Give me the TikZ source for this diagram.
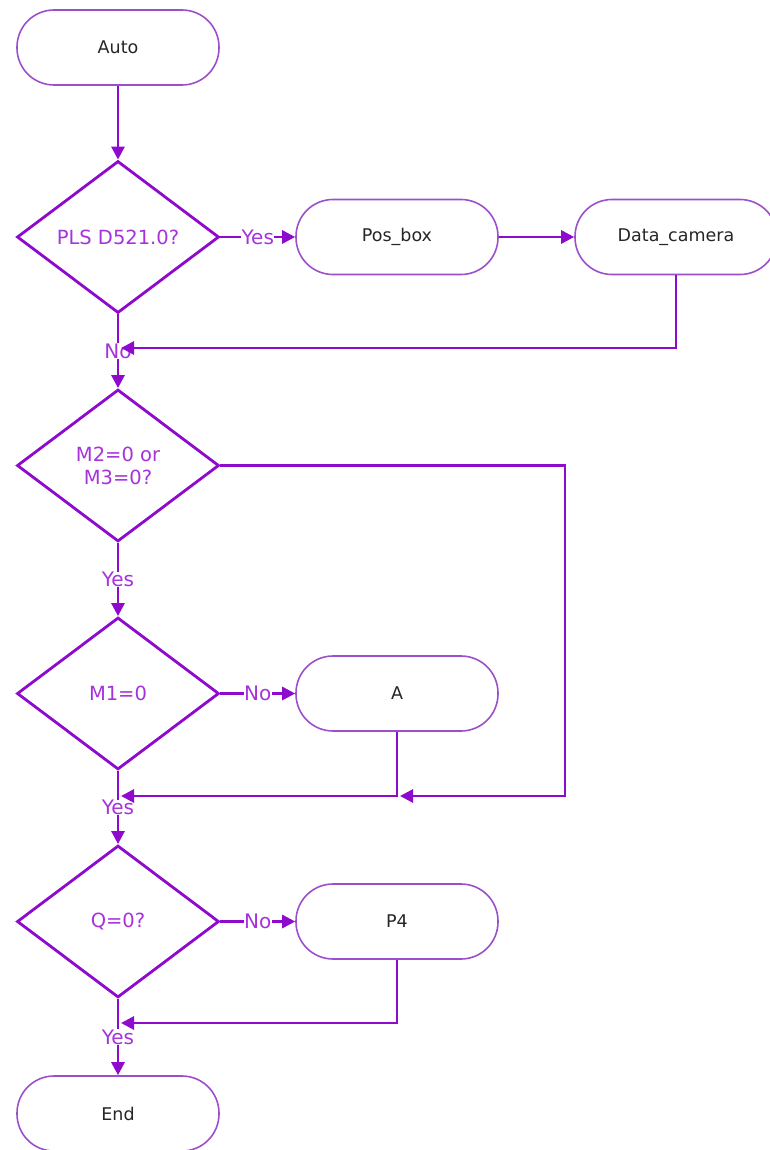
\documentclass[tikz,border=0pt]{standalone}
\usepackage{fontspec}
\setmainfont{DejaVu Sans}
\usetikzlibrary{shapes.geometric,arrows.meta}

\definecolor{flowline}{HTML}{8E0ACC}
\definecolor{boxline}{HTML}{9B4FCB}
\definecolor{asktext}{HTML}{A632DC}

\tikzset{
  term/.style={draw=boxline, line width=1.6pt, rounded corners=37pt,
    minimum width=202pt, minimum height=75pt, fill=white,
    font=\fontsize{17.5}{20}\selectfont, text=black!85},
  ask/.style={draw=flowline, line width=2.8pt, diamond, aspect=1.33,
    minimum width=202pt, minimum height=152pt, inner sep=0pt,
    font=\fontsize{19.5}{23}\selectfont, text=asktext, align=center},
  flow/.style={draw=flowline, line width=2.8pt,
    -{Triangle[length=13pt,width=13pt]}},
  tag/.style={font=\fontsize{20}{22}\selectfont, text=asktext,
    fill=white, inner sep=0.5pt}
}

\begin{document}
\begin{tikzpicture}[x=1pt,y=-1pt]
\useasboundingbox (0,0) rectangle (769,1150);

\node[term] (auto) at (118,47.5) {Auto};
\node[ask] (plc) at (118,237) {PLS D521.0?};
\node[term] (posbox) at (397,237) {Pos\_box};
\node[term] (camera) at (676,237) {Data\_camera};
\node[ask] (motor) at (118,465.5) {M2=0 or\\M3=0?};
\node[ask] (mone) at (118,693.5) {M1=0};
\node[term] (a) at (397,693.5) {A};
\node[ask] (q) at (118,921.5) {Q=0?};
\node[term] (p4) at (397,921.5) {P4};
\node[term] (end) at (118,1113.5) {End};

% join points on the main line
\coordinate (j1) at (121,348);
\coordinate (j2) at (400,796);
\coordinate (j3) at (121,796);
\coordinate (j4) at (121,1023);
\coordinate (side) at (565,465.5);

%-------------------------------------
\draw[flow] (auto) -- (plc);
\draw[flow] (plc) -- node[tag]{Yes} (posbox);
\draw[flow] (posbox) -- (camera);
\draw[flow] (plc.south) -- node[tag]{No} (motor.north);
\draw[flow] (camera.south) |- (j1);

\draw[flow] (motor.south) -- node[tag]{Yes} (mone.north);
\draw[flow] (mone.east) -- node[tag]{No} (a.west);
\draw[flow] (mone.south) -- node[tag]{Yes} (q.north);
\draw[flow] (motor.east) -- (side) |- (j2);
\draw[flow] (a.south) |- (j3);

\draw[flow] (q.east) -- node[tag]{No} (p4.west);
\draw[flow] (q.south) -- node[tag]{Yes} (end.north);
\draw[flow] (p4.south) |- (j4);

\end{tikzpicture}
\end{document}
